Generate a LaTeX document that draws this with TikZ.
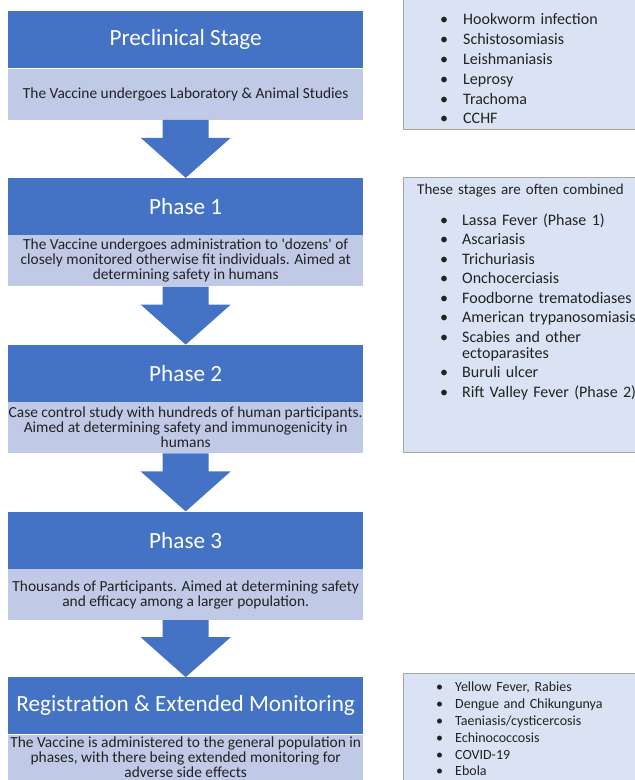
\documentclass[tikz,border=0pt]{standalone}
\usepackage{fontspec}
\setmainfont{Carlito}[Ligatures=TeXOff]
\usetikzlibrary{positioning}

\definecolor{stageblue}{HTML}{4472C4}
\definecolor{stagelight}{HTML}{C0CAE6}
\definecolor{listfill}{HTML}{DAE3F3}
\definecolor{listborder}{HTML}{A5A5A5}
\definecolor{bodytext}{HTML}{222222}

% bullet item, and a continued line of it
\newcommand{\bul}[2][22pt]{\noindent\makebox[#1][l]{\textbullet}#2\par}
\newcommand{\bulcont}[2][22pt]{\vspace{-\parskip}\noindent\hspace*{#1}#2\par}

\begin{document}
\begin{tikzpicture}[x=1pt, y=-1pt,
    head/.style={fill=stageblue, text=white, minimum width=355pt, minimum height=57pt,
        inner sep=0pt, font=\fontsize{23.2}{26}\selectfont},
    desc/.style={fill=stagelight, text=bodytext, minimum width=355pt, minimum height=51pt,
        inner sep=0pt, align=center, font=\fontsize{15.4}{15}\selectfont},
    listbox/.style={fill=listfill, draw=listborder, minimum width=245pt, anchor=north west, inner sep=0pt},
    listtext/.style={anchor=north west, inner sep=0pt, text=bodytext, text width=215pt, align=left}
]
    \useasboundingbox (0,0) rectangle (635,780);

    % stages on the left
    \node[head, anchor=north west] (h0) at (8,11) {Preclinical Stage};
    \node[desc, below=0pt of h0] (d0) {The Vaccine undergoes Laboratory \& Animal Studies};

    \node[head, below=58pt of d0] (h1) {Phase 1};
    \node[desc, below=0pt of h1] (d1) {The Vaccine undergoes administration to 'dozens' of\\
        closely monitored otherwise fit individuals. Aimed at\\determining safety in humans};

    \node[head, below=58pt of d1] (h2) {Phase 2};
    \node[desc, below=0pt of h2] (d2) {Case control study with hundreds of human participants.\\
        Aimed at determining safety and immunogenicity in\\humans};

    \node[head, below=58pt of d2] (h3) {Phase 3};
    \node[desc, below=0pt of h3] (d3) {Thousands of Participants. Aimed at determining safety\\
        and efficacy among a larger population.};

    \node[head, below=57pt of d3] (h4) {Registration \& Extended Monitoring};
    \node[desc, below=0pt of h4, minimum height=49pt] (d4) {\raisebox{4pt}{\begin{tabular}{@{}c@{}}
        The Vaccine is administered to the general population in\\
        phases, with there being extended monitoring for\\adverse side effects\end{tabular}}};

    % block arrows between the stages
    \foreach \a/\b in {d0/h1, d1/h2, d2/h3, d3/h4}
        \fill[stageblue] ([xshift=-23pt]\a.south) -- ([xshift=-23pt, yshift=40pt]\b.north)
            -- ([xshift=-45pt, yshift=40pt]\b.north) -- (\b.north)
            -- ([xshift=45pt, yshift=40pt]\b.north) -- ([xshift=23pt, yshift=40pt]\b.north)
            -- ([xshift=23pt]\a.south) -- cycle;

    % disease lists on the right
    \node[listbox, minimum height=135pt] (lb0) at (403,-6) {};
    \node[listtext, font=\fontsize{16}{19.8}\selectfont] (l0) at ([xshift=37pt, yshift=-19.5pt]lb0.north west)
        {\bul[23pt]{Hookworm infection}\bul[23pt]{Schistosomiasis}\bul[23pt]{Leishmaniasis}%
         \bul[23pt]{Leprosy}\bul[23pt]{Trachoma}\bul[23pt]{CCHF}};

    \node[listbox, minimum height=275pt] (lb1) at (403,177) {};
    \node[listtext, font=\fontsize{15}{16}\selectfont] (t1) at ([xshift=14pt, yshift=-7pt]lb1.north west)
        {These stages are often combined};
    \node[listtext, font=\fontsize{16}{16}\selectfont] (l1) at ([xshift=37pt, yshift=-36.4pt]lb1.north west)
        {\setlength{\parskip}{3.5pt}\bul{Lassa Fever (Phase 1)}\bul{Ascariasis}\bul{Trichuriasis}%
         \bul{Onchocerciasis}\bul{Foodborne trematodiases}\bul{American trypanosomiasis}%
         \bul{Scabies and other}\bulcont{ectoparasites}\bul{Buruli ulcer}\bul{Rift Valley Fever (Phase 2)}};

    \node[listbox, minimum height=120pt] (lb2) at (403,673) {};
    \node[listtext, font=\fontsize{14}{16.8}\selectfont] (l2) at ([xshift=33pt, yshift=-9pt]lb2.north west)
        {\bul[19pt]{Yellow Fever, Rabies}\bul[19pt]{Dengue and Chikungunya}\bul[19pt]{Taeniasis/cysticercosis}%
         \bul[19pt]{Echinococcosis}\bul[19pt]{COVID-19}\bul[19pt]{Ebola}};
\end{tikzpicture}
\end{document}
